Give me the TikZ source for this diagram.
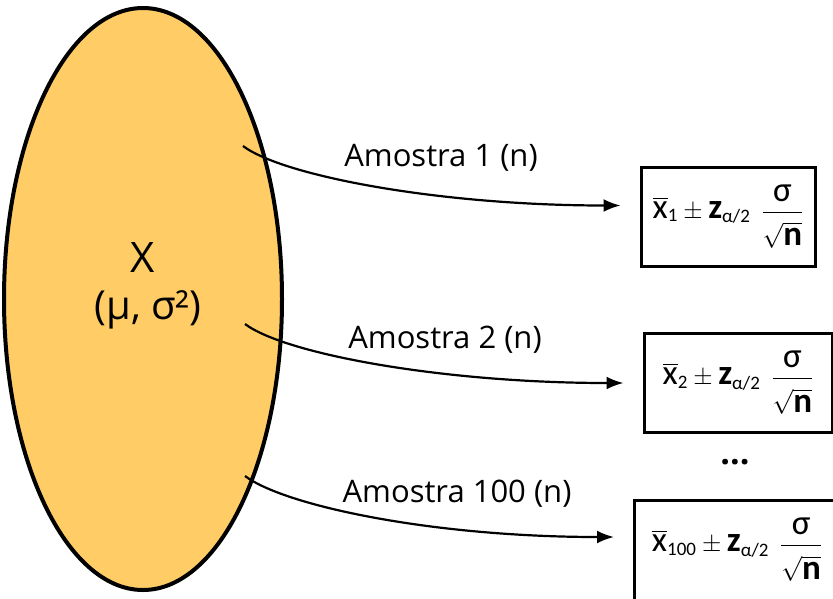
\documentclass[tikz,border=0pt]{standalone}
\usepackage{amsmath}
\usepackage{fontspec}
\setmainfont{Open Sans}
\newfontfamily\boxfont{Carlito}
\usetikzlibrary{shapes.geometric, arrows.meta}
\definecolor{popfill}{RGB}{255,204,102}
\tikzset{
  samplebox/.style={draw, line width=3pt, minimum width=174pt, minimum height=99pt,
    inner sep=0pt, font=\boxfont\fontsize{35}{38}\selectfont},
  samplelabel/.style={font=\fontsize{31}{34}\selectfont},
  samplearrow/.style={-{Latex[length=17pt, width=13pt]}, line width=2.2pt, shorten >=19pt},
}
\newcommand{\ciformula}[1]{$\overline{\mbox{x}}_{\mbox{\fontsize{19}{19}\selectfont #1}}
  \pm\mbox{\bfseries z}_{\mbox{\fontsize{19}{19}\selectfont α/2}}\;\,
  \dfrac{\mbox{σ}\rule[-5pt]{0pt}{5pt}}{\rule{0pt}{30pt}\sqrt{\mbox{\bfseries n}}}$}
\begin{document}
\begin{tikzpicture}[x=1pt, y=-1pt]
  \useasboundingbox (0,0) rectangle (833,598);
  % population
  \node[ellipse, draw, line width=4pt, fill=popfill, minimum width=278pt,
    minimum height=582pt, inner sep=0pt] (pop) at (143,299) {};
  \node[font=\fontsize{42}{46}\selectfont] (popname) at (143,258) {X};
  \node[font=\fontsize{40}{44}\selectfont] (popparam) at (148,310) {(μ, σ²)};

  % intervals
  \node[samplebox] (ci1) at (728,216.5) {\ciformula{1}};
  \node[samplebox, minimum width=188pt] (ci2) at (738,383) {\ciformula{2}};
  \node[samplebox, minimum width=205pt, minimum height=100pt] (ci3) at (737,550) {\ciformula{100}};
  \node[font=\bfseries\fontsize{34}{34}\selectfont] (dots) at (735,462) {...};

  % samples
  \coordinate (s1) at (243,146);
  \coordinate (s2) at (245,324);
  \coordinate (s3) at (245,476);
  \draw[samplearrow] (s1) .. controls +(40,30) and +(-200,0) .. ([yshift=11pt]ci1.west);
  \draw[samplearrow] (s2) .. controls +(40,30) and +(-200,0) .. (ci2.west);
  \draw[samplearrow] (s3) .. controls +(40,30) and +(-200,0) .. ([yshift=13pt]ci3.west);
  \node[samplelabel] (lab1) at (441,158) {Amostra 1 (n)};
  \node[samplelabel] (lab2) at (445,340) {Amostra 2 (n)};
  \node[samplelabel] (lab3) at (457,494) {Amostra 100 (n)};
\end{tikzpicture}
\end{document}
